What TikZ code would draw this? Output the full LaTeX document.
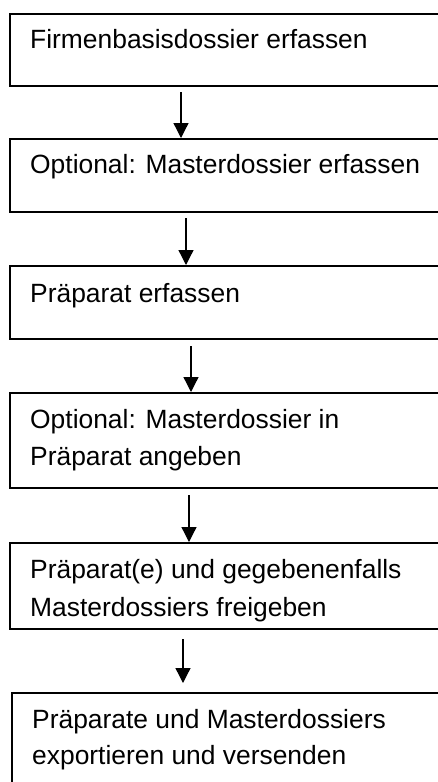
\documentclass[tikz,border=0pt]{standalone}
\usepackage{fontspec}
\setmainfont{Liberation Sans}
\usetikzlibrary{arrows.meta}
\begin{document}
\begin{tikzpicture}[x=1pt,y=-1pt,
  boxst/.style={draw=black, line width=1.6pt, inner sep=0pt, anchor=north west, minimum width=470pt},
  txt/.style={anchor=base west, inner sep=0pt, font=\fontsize{26.4}{37}\selectfont},
  arr/.style={line width=1.3pt, -{Triangle[width=15pt,length=15pt]}}
]
\useasboundingbox (0,0) rectangle (438,782);
\clip (0,0) rectangle (438,782);
\fill[white] (0,0) rectangle (438,782);

% boxes
\node[boxst, minimum height=72pt] (b1) at (9,13) {};
\node[boxst, minimum height=73pt] (b2) at (9,138) {};
\node[boxst, minimum height=73pt] (b3) at (9,265) {};
\node[boxst, minimum height=95pt] (b4) at (9,392) {};
\node[boxst, minimum height=86pt] (b5) at (9,542) {};
\node[boxst, minimum height=130pt] (b6) at (11,692) {};

% texts
\node[txt] (t1) at (30,48) {Firmenbasisdossier erfassen};
\node[txt] (t2) at (30,173) {Optional: Masterdossier erfassen};
\node[txt] (t3) at (30,302) {Präparat erfassen};
\node[txt] (t4a) at (30,428) {Optional: Masterdossier in};
\node[txt] (t4b) at (30,465) {Präparat angeben};
\begin{scope}
  \clip (9,542) rectangle (470,621);
  \node[txt] (t5a) at (30,578) {Präparat(e) und gegebenenfalls};
  \node[txt] (t5b) at (30,616) {Masterdossiers freigeben};
\end{scope}
\node[txt] (t6a) at (32,728) {Präparate und Masterdossiers};
\node[txt] (t6b) at (32,764) {exportieren und versenden};

% arrows
\coordinate (a1) at (181,92);
\coordinate (a2) at (186,218);
\coordinate (a3) at (191,346);
\coordinate (a4) at (189,495);
\coordinate (a5) at (183,639);
\coordinate (a5e) at (183,683);
\draw[arr] (a1) -- (a1 |- b2.north);
\draw[arr] (a2) -- (a2 |- b3.north);
\draw[arr] (a3) -- (a3 |- b4.north);
\draw[arr] (a4) -- (a4 |- b5.north);
\draw[arr] (a5) -- (a5e);
\end{tikzpicture}
\end{document}
